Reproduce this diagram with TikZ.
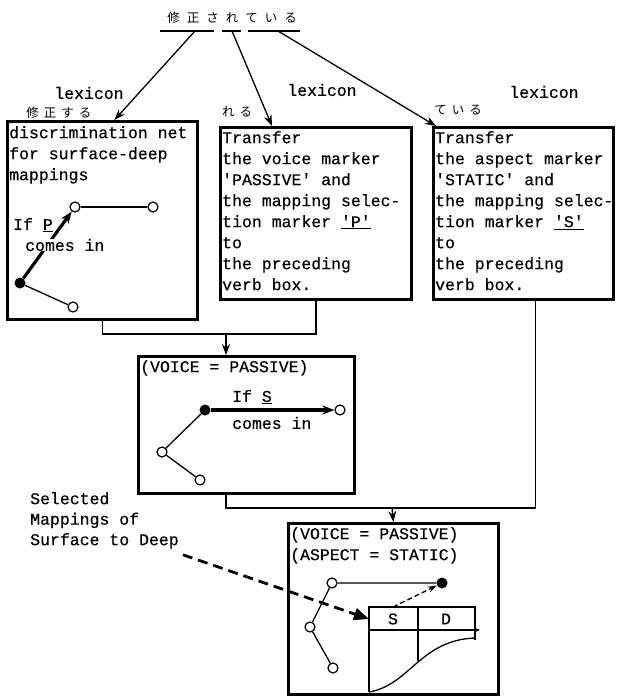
\documentclass[tikz,border=0pt]{standalone}
\usepackage{fontspec}
\setmonofont[FakeBold=0.4]{Liberation Mono}
\newfontfamily\jfont{Noto Sans CJK JP}
\usetikzlibrary{arrows.meta,positioning,calc}

\begin{document}
\begin{tikzpicture}[x=1pt, y=-1pt,
    lexbox/.style={draw, line width=2.8pt, anchor=north west, inner sep=0pt},
    tw/.style={font=\fontsize{16.5}{21}\ttfamily, align=left, inner sep=0pt},
    jp/.style={font=\fontsize{12.5}{14}\jfont, inner sep=0pt},
    link/.style={line width=1.3pt},
    feed/.style={line width=1.3pt, -{Stealth[length=11pt,width=8pt]}},
    push/.style={line width=3.2pt, -{Stealth[length=12pt,width=9pt]}},
    opn/.style={circle, draw, line width=1.2pt, fill=white, minimum size=10pt, inner sep=0pt},
    cls/.style={circle, fill=black, minimum size=11pt, inner sep=0pt}]
  \useasboundingbox (0,0) rectangle (618,696);

  % Sentence at the top, split into lexicon entries
  \node[jp] (sent) at (232,18)
    {修\hspace{7pt}正\hspace{7pt}さ\hspace{7pt}れ\hspace{7pt}て\hspace{7pt}い\hspace{7pt}る};
  \draw[link] (160,31) -- (214,31);
  \draw[link] (222,31) -- (241,31);
  \draw[link] (248,31) -- (300,31);
  \coordinate (u1) at (195,31);
  \coordinate (u2) at (232,31);
  \coordinate (u3) at (278,31);

  % Three lexicon boxes
  \node[lexbox, minimum width=190pt, minimum height=198pt] (lexA) at (6,120) {};
  \node[lexbox, minimum width=191pt, minimum height=172pt] (lexB) at (219,126) {};
  \node[lexbox, minimum width=180pt, minimum height=172pt] (lexC) at (432,126) {};

  \node[tw] (lexAlbl) at (89,93) {lexicon};
  \node[tw] (lexBlbl) at (322,90) {lexicon};
  \node[tw] (lexClbl) at (544,92) {lexicon};
  \node[jp] (lexAjp) at (59,113) {修\hspace{5pt}正\hspace{5pt}す\hspace{5pt}る};
  \node[jp] (lexBjp) at (237,112) {れ\hspace{5pt}る};
  \node[jp] (lexCjp) at (458,110) {て\hspace{5pt}い\hspace{5pt}る};

  \draw[feed] (u1) -- ([xshift=12pt]lexA.north);
  \draw[feed] (u2) -- ([xshift=53pt]lexB.north west);
  \draw[feed] (u3) -- ([xshift=4pt]lexC.north west);

  \node[tw, anchor=north west] (lexAtxt) at ($(lexA.north west)+(3,6)$)
    {discrimination net\\for surface-deep\\mappings};
  \node[tw, anchor=north west] (lexBtxt) at ($(lexB.north west)+(3,5)$)
    {Transfer\\the voice marker\\\textquotesingle PASSIVE\textquotesingle{} and\\the mapping selec-\\tion marker \underline{\textquotesingle P\textquotesingle}\\to\\the preceding\\verb box.};
  \node[tw, anchor=north west] (lexCtxt) at ($(lexC.north west)+(3,5)$)
    {Transfer\\the aspect marker\\\textquotesingle STATIC\textquotesingle{} and\\the mapping selec-\\tion marker \underline{\textquotesingle S\textquotesingle}\\to\\the preceding\\verb box.};

  % Net inside the first box
  \node[opn] (a1) at (75,207) {};
  \node[opn] (a2) at (153,207) {};
  \node[cls] (a0) at (20,283) {};
  \node[opn] (a3) at (73,307) {};
  \draw[link] (a1) -- (a2);
  \draw[link] (a0) -- (a3);
  \draw[push] (a0) -- (a1);
  \node[tw, anchor=west] (ifP) at (13,225) {If \underline{P}};
  \node[tw, anchor=west, fill=white] (inP) at (25,245) {comes in};

  % Merge into the verb box
  \coordinate (j1) at (226,334);
  \draw[link] (lexA.south) |- (j1) -| (lexB.south);
  \node[lexbox, minimum width=216pt, minimum height=137pt] (verb) at (137,355) {};
  \draw[feed] (j1) -- (j1 |- verb.north);
  \node[tw, anchor=north west] (verbtxt) at ($(verb.north west)+(3,5)$) {(VOICE = PASSIVE)};

  \node[cls] (v0) at (205,410) {};
  \node[opn] (v1) at (340,410) {};
  \node[opn] (v2) at (162,452) {};
  \node[opn] (v3) at (200,480) {};
  \draw[link] (v0) -- (v2) -- (v3);
  \draw[push] (v0) -- (v1);
  \node[tw, anchor=west] (ifS) at (232,397) {If \underline{S}};
  \node[tw, anchor=west] (inS) at (232,423) {comes in};

  % Final box
  \coordinate (j2) at (392,508);
  \draw[link] (verb.south -| j1) |- (j2) -| ([xshift=12pt]lexC.south);
  \node[lexbox, minimum width=210pt, minimum height=171pt] (final) at (287,522) {};
  \draw[feed] (j2) -- (final.north);
  \node[tw, anchor=north west] (finaltxt) at ($(final.north west)+(3,5)$)
    {(VOICE = PASSIVE)\\(ASPECT = STATIC)};

  \node[opn] (f1) at (332,583) {};
  \node[cls] (f0) at (442,583) {};
  \node[opn] (f2) at (310,627) {};
  \node[opn] (f3) at (333,668) {};
  \draw[link] (f0) -- (f1) -- (f2) -- (f3);

  % Surface / deep table
  \draw[link] (369,692) -- (369,607) -- (475,607) -- (475,640);
  \draw[link] (369,692) .. controls (410,685) and (420,640) .. (475,638);
  \draw[link] (418,607) -- (418,661);
  \draw[link, -{Stealth[length=5pt,width=4pt]}] (369,630) -- (480,630);
  \node[tw] (colS) at (393,619) {S};
  \node[tw] (colD) at (446,619) {D};
  \coordinate (tabtop) at (393,607);
  \coordinate (tabin) at (369,619);
  \draw[link, dash pattern=on 5pt off 3pt, -{Stealth[length=9pt,width=6pt]}] (tabtop) -- (f0);

  % Note on the left
  \node[tw, anchor=north west, font=\fontsize{16.5}{20.5}\ttfamily] (sel) at (30,492)
    {Selected\\Mappings of\\Surface to Deep};
  \draw[line width=2.8pt, dash pattern=on 10pt off 6pt, -{Triangle[length=15pt,width=12pt]}]
    ([shift={(4,6)}]sel.south east) -- (tabin);
\end{tikzpicture}
\end{document}
